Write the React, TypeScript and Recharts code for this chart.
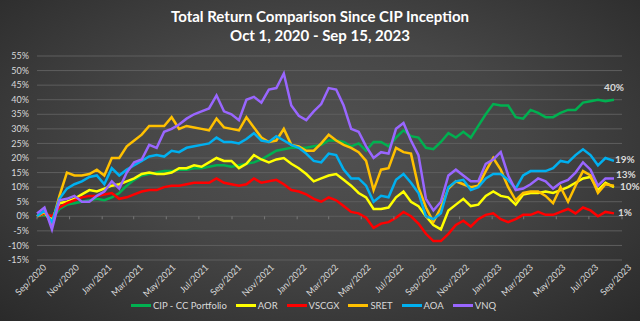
import React from "react";
import { CartesianGrid, Legend, Line, LineChart, XAxis, YAxis } from "recharts";

// biweekly total return (%) since Sep 30, 2020
const cip = [
  0, 0.5, -1, 2.5, 4, 4.5, 5, 5.5, 6, 5.5, 6.5, 8, 10.5, 12.5, 14, 14.5, 15, 15.5, 15.5, 16,
  16, 16.5, 16.5, 17, 17.5, 17.5, 17, 17.5, 18, 18.5, 19.5, 21, 22.5, 23, 23.5, 23.5, 23.5, 24, 24.5, 26,
  26, 25.5, 24, 25, 22.5, 25.5, 25.5, 24, 27, 29.5, 27.5, 27, 23.5, 23, 25.5, 28.5, 27, 29, 27, 31,
  35, 38.5, 38, 38, 34, 33.5, 36.5, 35.5, 34, 34, 35.5, 36.5, 36.5, 39, 39.5, 40, 39.5, 40,
];
const aor = [
  0, 1, -1, 4.5, 5, 6, 7.5, 9, 8.5, 9.5, 10.5, 11, 12, 13, 14.5, 15, 14.5, 14.5, 15, 16.5,
  16.5, 17.5, 17, 18.5, 20, 19, 19, 16.5, 18, 21, 19.5, 18.5, 19.5, 20, 18, 16.5, 14.5, 12, 13, 14,
  14.5, 12.5, 10.5, 8, 6.5, 2.5, 2.5, 3, 6.5, 8.5, 5, 3.5, 0, -3, -4.5, 2, 4, 6, 3.5, 4,
  7, 8.5, 7, 6.5, 4, 7.5, 8, 8, 8.5, 8, 9, 10, 11.5, 13, 13.5, 9, 11.5, 10,
];
const vscgx = [
  0, 1, 0, 3, 4.5, 5.5, 6.5, 7, 7, 7.5, 8, 6, 6.5, 7.5, 8.5, 9, 9, 10, 10.5, 10.5,
  11, 11.5, 11.5, 11.5, 13, 11.5, 11, 10.5, 11, 13, 11.5, 12, 12.5, 11, 9, 8.5, 7.5, 6, 5, 6.5,
  5.5, 3.5, 1.5, 1, -0.5, -4, -2.5, -2, -0.5, 1.5, 0, -2.5, -6, -8.5, -8.5, -6, -3, -1.5, -3.5, -1,
  0.5, 1, -1, -2, -1, 0.5, 0.5, 1.5, 0.5, 0.5, 1.5, 2.5, 1, 3, 2, 0, 1.5, 1,
];
const sret = [
  0, 1.5, -2.5, 7, 15, 14, 14, 14.5, 16, 14, 20, 20, 24, 26, 28, 31, 31, 31, 34, 30,
  31, 30.5, 30, 29.5, 33.5, 30.5, 30, 29.5, 34, 30.5, 27, 25.5, 26, 30, 24.5, 24, 22.5, 22.5, 25, 28,
  26, 24.5, 23.5, 22, 19, 9, 16, 16.5, 23.5, 22, 21.5, 10, 3, -2, 3, 9.5, 12, 11, 10, 10.5,
  15.5, 20, 16, 10, 5.5, 8, 8.5, 8.5, 7, 4.5, 10, 5, 10.5, 15.5, 14, 8, 11, 10.5,
];
const aoa = [
  0, 2, -2, 6, 9.5, 11, 12, 13.5, 14, 11, 16.5, 14, 16, 17.5, 19, 20.5, 21, 20.5, 22.5, 22,
  23.5, 24, 24.5, 25, 27, 25.5, 25.5, 25, 26.5, 28.5, 26, 25.5, 27.5, 26, 24.5, 23.5, 21.5, 19, 18.5, 21.5,
  21, 16, 13, 13, 10.5, 5, 7, 6.5, 12.5, 14.5, 11.5, 8, 0, -1, 1, 10, 12, 12.5, 9, 10,
  13, 14.5, 14.5, 12.5, 9.5, 14, 15.5, 15.5, 15.5, 16.5, 19, 18.5, 21, 23, 21, 17.5, 20, 19,
];
const vnq = [
  1, 3, -4.5, 5.5, 6, 7, 5, 5, 7, 8.5, 12, 9.5, 15, 18.5, 19.5, 24.5, 23.5, 29, 30, 31.5,
  33.5, 35, 36, 37, 41.5, 36, 35, 33, 40, 41, 39, 43.5, 44, 49, 38, 34.5, 33, 36, 38.5, 44,
  43.5, 38, 30, 29, 24, 20, 22, 21.5, 30, 32, 26, 21, 6, 2, 5, 14, 16, 14, 12, 12,
  18, 19.5, 22, 14, 9, 9.5, 11, 13, 12, 9.5, 11.5, 12.5, 15, 18.5, 16, 10.5, 13, 13,
];

const MONTHS = ["Jan", "Feb", "Mar", "Apr", "May", "Jun", "Jul", "Aug", "Sep", "Oct", "Nov", "Dec"];
const yTicks = [-15, -10, -5, 0, 5, 10, 15, 20, 25, 30, 35, 40, 45, 50, 55];

const DAY = 86400000;
const START = Date.UTC(2020, 8, 30);
const END_DAY = 1095;
const xTicks = Array.from({ length: 19 }, (_, k) =>
  Math.round((Date.UTC(2020, 8 + 2 * k, 30) - START) / DAY)
);

const W = 640;
const H = 321;
const TOP = 56;
const PLOT_BOTTOM = 260;
const ZERO_Y = TOP + ((55 - 0) / 70) * (PLOT_BOTTOM - TOP);

const series = [
  { key: "cip", name: "CIP - CC Portfolio", color: "#00b050", values: cip, lbl: { dx: 0, dy: -9, anchor: "middle" } },
  { key: "aor", name: "AOR", color: "#ffff00", values: aor, lbl: { dx: 6, dy: 3, anchor: "start" } },
  { key: "vscgx", name: "VSCGX", color: "#ff0000", values: vscgx, lbl: { dx: 4, dy: 3, anchor: "start" } },
  { key: "sret", name: "SRET", color: "#ffc000", values: sret, lbl: null },
  { key: "aoa", name: "AOA", color: "#00b0f0", values: aoa, lbl: { dx: 1, dy: 2, anchor: "start" } },
  { key: "vnq", name: "VNQ", color: "#9966ff", values: vnq, lbl: { dx: 2, dy: 0, anchor: "start" } },
];

const data = cip.map((_, i) => {
  const row: Record<string, number> = { day: i === cip.length - 1 ? 1080 : i * 14 };
  series.forEach((s) => (row[s.key] = s.values[i]));
  return row;
});

const FONT = "Lato, 'Open Sans', sans-serif";

const XTick = (props: any) => {
  const { x, y, payload } = props;
  const d = new Date(START + payload.value * DAY);
  const text = `${MONTHS[d.getUTCMonth()]}/${d.getUTCFullYear()}`;
  const ax = x + 10;
  const ay = y;
  return (
    <g>
      <line x1={x} x2={x} y1={ZERO_Y} y2={ZERO_Y + 3} stroke="#777" />
      <text
        x={ax}
        y={ay}
        transform={`rotate(-45 ${ax} ${ay})`}
        textAnchor="end"
        fill="#d9d9d9"
        fontSize={9}
        fontFamily={FONT}
      >
        {text}
      </text>
    </g>
  );
};

const makeLabel = (s: (typeof series)[number]) => (p: any) => {
  if (!s.lbl || p.index !== s.values.length - 1) return <g />;
  return (
    <text
      x={p.x + s.lbl.dx}
      y={p.y + s.lbl.dy}
      textAnchor={s.lbl.anchor}
      fill="#d9d9d9"
      fontSize={10}
      fontWeight="bold"
      fontFamily={FONT}
    >
      {`${Math.round(p.value)}%`}
    </text>
  );
};

const LegendContent = () => (
  <div
    style={{
      display: "flex",
      justifyContent: "center",
      alignItems: "center",
      gap: 9,
      height: 14,
      paddingBottom: 9,
      fontFamily: FONT,
      fontSize: 9.5,
      color: "#d9d9d9",
    }}
  >
    {series.map((s) => (
      <div key={s.key} style={{ display: "flex", alignItems: "center" }}>
        <span style={{ display: "inline-block", width: 20, height: 3, background: s.color, marginRight: 2 }} />
        {s.name}
      </div>
    ))}
  </div>
);

export default function App() {
  return (
    <div
      style={{
        position: "relative",
        width: W,
        height: H,
        background: "radial-gradient(ellipse at 50% 45%, #515151 0%, #464646 45%, #2a2a2a 100%)",
      }}
    >
      <style>{"body{margin:0}"}</style>
      <div
        style={{
          position: "absolute",
          top: 7,
          left: 0,
          width: W,
          textAlign: "center",
          color: "#ffffff",
          fontFamily: FONT,
          fontWeight: "bold",
          fontSize: 15,
          lineHeight: "19px",
        }}
      >
        <div>Total Return Comparison Since CIP Inception</div>
        <div>Oct 1, 2020 - Sep 15, 2023</div>
      </div>
      <LineChart width={W} height={H} data={data} margin={{ top: TOP, right: 18, bottom: 0, left: 5 }}>
        <CartesianGrid vertical={false} stroke="#5e5e5e" />
        <XAxis
          dataKey="day"
          type="number"
          domain={[0, END_DAY]}
          ticks={xTicks}
          interval={0}
          height={38}
          axisLine={false}
          tickLine={false}
          tick={<XTick />}
        />
        <YAxis
          domain={[-15, 55]}
          ticks={yTicks}
          interval={0}
          width={32}
          axisLine={false}
          tickLine={false}
          tickFormatter={(v) => `${v}%`}
          tick={{ fill: "#d9d9d9", fontSize: 9, fontFamily: FONT }}
        />
        <Legend verticalAlign="bottom" content={<LegendContent />} />
        {series.map((s) => (
          <Line
            key={s.key}
            type="linear"
            dataKey={s.key}
            name={s.name}
            stroke={s.color}
            strokeWidth={2.5}
            dot={false}
            isAnimationActive={false}
            label={makeLabel(s)}
          />
        ))}
      </LineChart>
    </div>
  );
}
